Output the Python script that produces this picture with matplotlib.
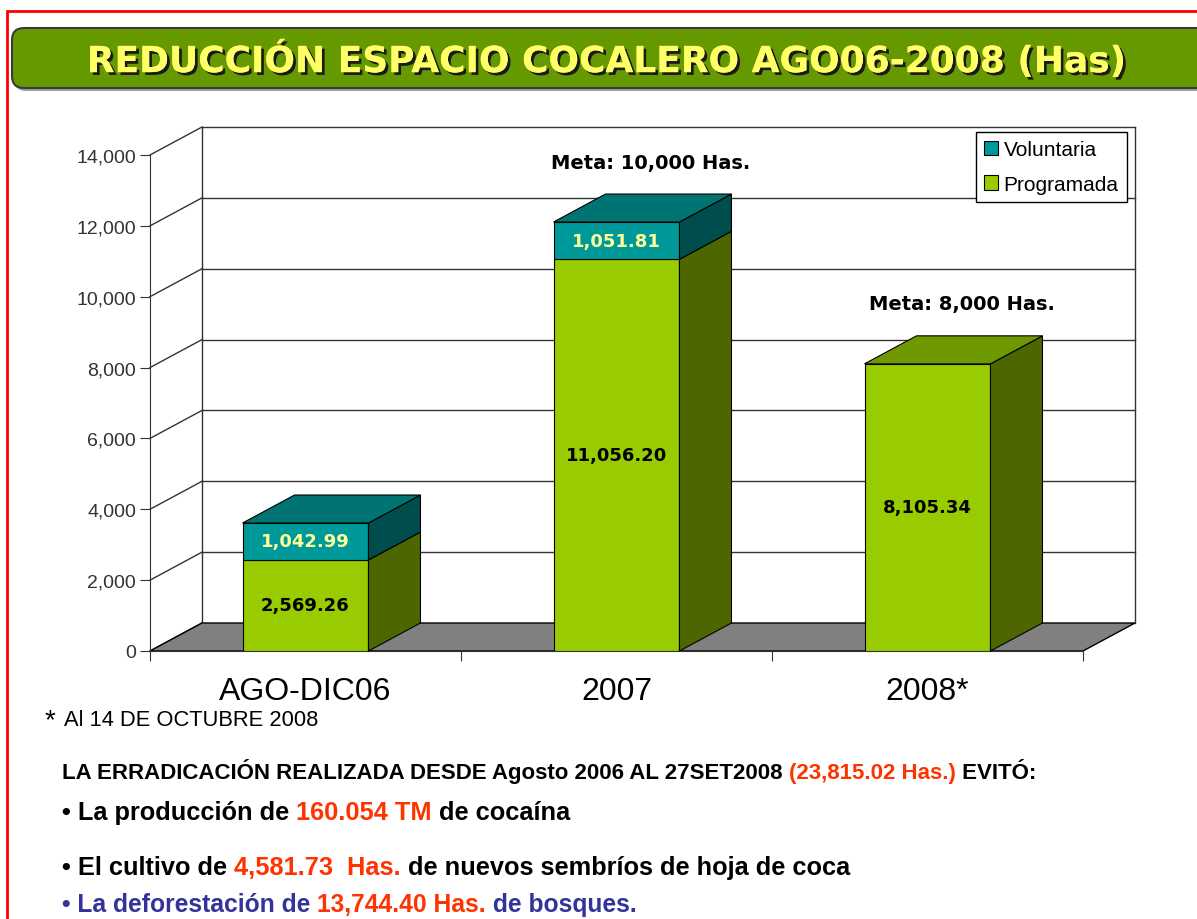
import matplotlib
matplotlib.use("Agg")
import matplotlib.pyplot as plt
import matplotlib.patheffects as pe
from matplotlib.patches import Polygon, FancyBboxPatch, Patch

plt.rcParams['font.family'] = ['Liberation Sans', 'DejaVu Sans']

# --- data ---
categories = ["AGO-DIC06", "2007", "2008*"]
programada = [2569.26, 11056.20, 8105.34]
voluntaria = [1042.99, 1051.81, 0.0]
prog_labels = ["2,569.26", "11,056.20", "8,105.34"]
vol_labels = ["1,042.99", "1,051.81", ""]
meta_labels = ["", "Meta: 10,000 Has.", "Meta: 8,000 Has."]
yticks = [0, 2000, 4000, 6000, 8000, 10000, 12000, 14000]
ytick_labels = ["0", "2,000", "4,000", "6,000", "8,000", "10,000", "12,000", "14,000"]

title = "REDUCCIÓN ESPACIO COCALERO AGO06-2008 (Has)"
footnote = "Al 14 DE OCTUBRE 2008"
RED = "#FF3300"
BLUE = "#333399"
lines = [
    [("LA ERRADICACIÓN REALIZADA DESDE Agosto 2006 AL 27SET2008 ", "black"),
     ("(23,815.02 Has.)", RED), (" EVITÓ:", "black")],
    [("• La producción de ", "black"), ("160.054 TM", RED), (" de cocaína", "black")],
    [("• El cultivo de ", "black"), ("4,581.73  Has.", RED),
     (" de nuevos sembríos de hoja de coca", "black")],
    [("• La deforestación de ", BLUE), ("13,744.40 Has.", RED), (" de bosques.", BLUE)],
]

# colours
prog_front, prog_side, prog_top = "#99CC00", "#4D6600", "#6F9900"
vol_front, vol_side, vol_top = "#009999", "#004D4D", "#007373"

W, H = 1197, 920
fig = plt.figure(figsize=(W / 100, H / 100), dpi=100)
fig.patch.set_facecolor("white")

# background axes in pixel units
bg = fig.add_axes([0, 0, 1, 1], zorder=0)
bg.set_xlim(0, W)
bg.set_ylim(H, 0)
bg.axis("off")

bg.plot([7, 7, W + 5], [H + 5, 12, 12], color="red", lw=2, solid_joinstyle="miter")
bg.add_patch(FancyBboxPatch((14, 32), 1200, 60, boxstyle="round,pad=0,rounding_size=12",
                            fc="#a0a0a0", ec="none"))
bg.add_patch(FancyBboxPatch((12, 29), 1200, 60, boxstyle="round,pad=0,rounding_size=12",
                            fc="#669900", ec="#3a3a3a", lw=1.5))

renderer = fig.canvas.get_renderer()


def text_width(s, **kw):
    if not s:
        return 0.0
    t = bg.text(0, 0, s + "I", **kw)
    w = t.get_window_extent(renderer).width
    t.remove()
    t = bg.text(0, 0, "I", **kw)
    w -= t.get_window_extent(renderer).width
    t.remove()
    return w


def fit_size(s, target, **kw):
    return 10 * target / text_width(s, fontsize=10, **kw)


def draw_parts(parts, x, yc, size, **kw):
    base = yc + 0.36 * size * 100 / 72
    prefix = ""
    for s, c in parts:
        bg.text(x + text_width(prefix, fontsize=size, **kw), base, s, color=c,
                fontsize=size, va="baseline", ha="left", **kw)
        prefix += s


# title
tkw = dict(family="DejaVu Sans", weight="bold")
tsize = fit_size(title, 1042, **tkw)
bg.text(606, 60 + 0.365 * tsize * 100 / 72, title, ha="center", va="baseline",
        fontsize=tsize, color="#FFFF66",
        path_effects=[pe.withSimplePatchShadow(offset=(2, -2), shadow_rgbFace="#1a1a1a", alpha=1.0),
                      pe.Normal()], **tkw)

# footer
bg.text(45, 728, "*", fontsize=20, va="baseline", ha="left")
fsize = fit_size(footnote, 254)
draw_parts([(footnote, "black")], 64, 718, fsize)

s1 = fit_size("".join(p for p, _ in lines[0]), 975, weight="bold")
draw_parts(lines[0], 62, 771, s1, weight="bold")
s2 = fit_size("".join(p for p, _ in lines[1]), 508, weight="bold")
draw_parts(lines[1], 62, 811, s2, weight="bold")
s3 = fit_size("".join(p for p, _ in lines[2]), 791, weight="bold")
draw_parts(lines[2], 62, 866, s3, weight="bold")
draw_parts(lines[3], 62, 903, s3 * 0.97, weight="bold")

# --- chart ---
X0, X1, Y0, Y1 = 150, 1083, 652, 156
ax = fig.add_axes([X0 / W, 1 - Y0 / H, (X1 - X0) / W, (Y0 - Y1) / H], zorder=1)
ax.set_xlim(0, 3)
ax.set_ylim(0, 14000)
ax.patch.set_visible(False)
DX = 52 / (X1 - X0) * 3
DY = 28 / (Y0 - Y1) * 14000
BW = 0.405
gc = "#333333"

for y in yticks:
    ax.plot([0, DX], [y, y + DY], color=gc, lw=1, zorder=1, clip_on=False)
    if y > 0:
        ax.plot([DX, 3 + DX], [y + DY, y + DY], color=gc, lw=1, zorder=1, clip_on=False)
for xb in (DX, 3 + DX):
    ax.plot([xb, xb], [DY, 14000 + DY], color=gc, lw=1, zorder=1, clip_on=False)

ax.add_patch(Polygon([(0, 0), (3, 0), (3 + DX, DY), (DX, DY)], closed=True,
                     fc="#808080", ec="black", lw=1, zorder=2, clip_on=False))

xs = [i + 0.5 for i in range(len(categories))]
for i, x in enumerate(xs):
    segs = [(0, programada[i], prog_front, prog_side, prog_top, prog_labels[i], "black"),
            (programada[i], voluntaria[i], vol_front, vol_side, vol_top, vol_labels[i], "#FFFF99")]
    segs = [s for s in segs if s[1] > 0]
    x0, x1 = x - BW / 2, x + BW / 2
    for k, (b, h, fc, sc, tc, lab, lc) in enumerate(segs):
        t = b + h
        ax.bar(x, h, bottom=b, width=BW, color=fc, edgecolor="black", lw=0.8, zorder=3)
        ax.add_patch(Polygon([(x1, b), (x1 + DX, b + DY), (x1 + DX, t + DY), (x1, t)],
                             closed=True, fc=sc, ec="black", lw=0.8, zorder=3, clip_on=False))
        if k == len(segs) - 1:
            ax.add_patch(Polygon([(x0, t), (x1, t), (x1 + DX, t + DY), (x0 + DX, t + DY)],
                                 closed=True, fc=tc, ec="black", lw=0.8, zorder=3, clip_on=False))
        ax.text(x, b + h / 2, lab, ha="center", va="center", color=lc, fontsize=13,
                family="DejaVu Sans", weight="bold", zorder=4)
    tot = programada[i] + voluntaria[i]
    if meta_labels[i]:
        ax.annotate(meta_labels[i], xy=(x + DX / 2, tot + DY), xytext=(8, 32),
                    textcoords="offset pixels", ha="center", va="center", fontsize=14,
                    family="DejaVu Sans", weight="bold", annotation_clip=False, zorder=4)

ax.set_yticks(yticks)
ax.set_yticklabels(ytick_labels)
ax.tick_params(axis="y", length=7, color=gc, labelsize=14, labelcolor="#333333", pad=3)
ax.set_xticks([0, 1, 2, 3])
ax.set_xticklabels([])
ax.set_xticks(xs, minor=True)
ax.set_xticklabels(categories, minor=True)
ax.tick_params(axis="x", which="major", length=7, color=gc)
ax.tick_params(axis="x", which="minor", length=0, pad=18, labelsize=23)
for side in ("top", "right"):
    ax.spines[side].set_visible(False)
for side in ("left", "bottom"):
    ax.spines[side].set_color(gc)
    ax.spines[side].set_zorder(2.5)

handles = [Patch(fc=vol_front, ec="black", lw=0.8, label="Voluntaria"),
           Patch(fc=prog_front, ec="black", lw=0.8, label="Programada")]
leg = ax.legend(handles=handles, loc="upper right", bbox_to_anchor=(1127 / W, 1 - 133 / H),
                bbox_transform=fig.transFigure, fontsize=15, fancybox=False, edgecolor="black",
                framealpha=1, borderpad=0.4, labelspacing=0.75, handlelength=0.7,
                handleheight=0.7, handletextpad=0.25, borderaxespad=0)
leg.get_frame().set_linewidth(1)
leg.set_zorder(5)

fig.savefig("out.png", dpi=100)
